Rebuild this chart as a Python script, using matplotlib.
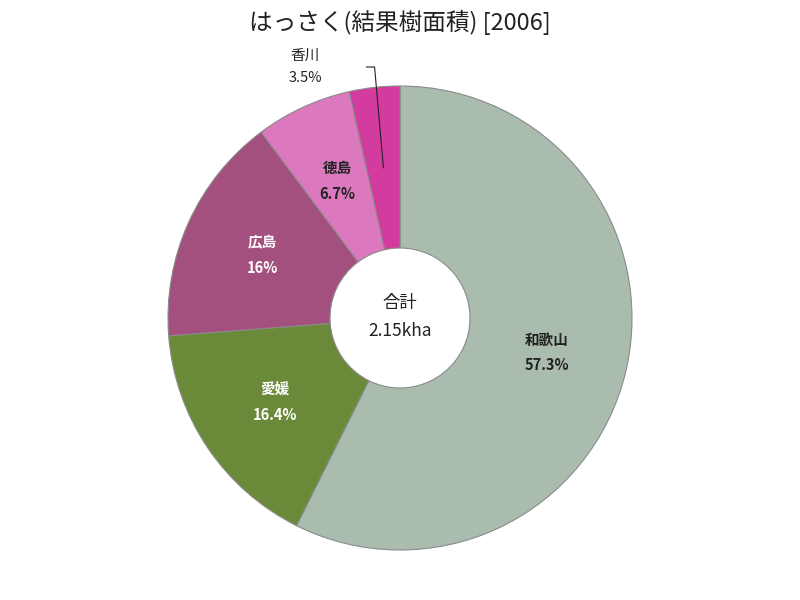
import matplotlib.pyplot as plt
import numpy as np

plt.rcParams['font.family'] = ['Noto Sans CJK JP', 'DejaVu Sans']

prefs = ['和歌山', '愛媛', '広島', '徳島', '香川']
shares = [57.3, 16.4, 16, 6.7, 3.5]
colors = ['#a9bcae', '#6a8a3a', '#a4507e', '#dc78bd', '#d33b9e']
text_colors = ['#222222', 'white', 'white', '#222222', '#222222']
total_label = '2.15kha'

R = 232
hole = 70

fig = plt.figure(figsize=(8, 6), dpi=100)
ax = fig.add_axes([0, 0, 1, 1])
wedges, _ = ax.pie(shares, colors=colors, startangle=90, counterclock=False,
                   radius=R, center=(0, 0), frame=True,
                   wedgeprops=dict(width=R - hole, edgecolor='#8a8a8a', linewidth=0.8))
ax.set_xlim(-400, 400)
ax.set_ylim(-282, 318)
ax.set_aspect('equal')
ax.axis('off')

mid_r = (R + hole) / 2
for w, name, s, tc in zip(wedges, prefs, shares, text_colors):
    ang = np.deg2rad((w.theta1 + w.theta2) / 2)
    x, y = mid_r * np.cos(ang), mid_r * np.sin(ang)
    txt = f'{name}\n{s:g}%'
    if name == '香川':
        ax.annotate(txt, xy=(x, y), xytext=(-95, 251), ha='center', va='center',
                    fontsize=10.5, color=tc, linespacing=1.75,
                    arrowprops=dict(arrowstyle='-', color='#222222', lw=0.8,
                                    connectionstyle='angle,angleA=0,angleB=95,rad=0',
                                    shrinkA=30, shrinkB=0))
    else:
        ax.text(x, y, txt, ha='center', va='center', fontsize=10.5, color=tc,
                fontweight='bold', linespacing=1.75)

ax.text(0, 15, '合計', ha='center', va='center', fontsize=12.5, color='#222222')
ax.text(0, -13, total_label, ha='center', va='center', fontsize=12.5, color='#222222')

fig.text(0.5, 0.962, 'はっさく(結果樹面積) [2006]', ha='center', va='center',
         fontsize=17, color='#222222')

fig.savefig('out.png', dpi=100, facecolor='white')
